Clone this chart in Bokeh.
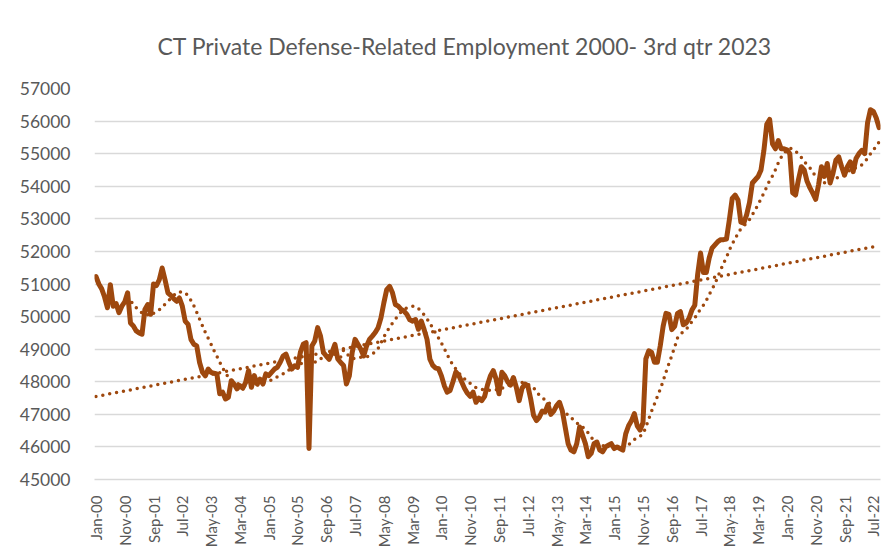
import math
import numpy as np
from bokeh.plotting import figure
from bokeh.models import Range1d, FixedTicker, BasicTickFormatter
from bokeh.embed import file_html
from bokeh.resources import INLINE

# Monthly CT private defense-related employment, Jan-2000 .. Sep-2022
employment = [
    51230, 51000, 50850, 50600, 50270, 50980, 50320, 50400, 50120, 50320,
    50450, 50730, 49800, 49710, 49560, 49500, 49460, 50220, 50370, 50070,
    51000, 50950, 51130, 51490, 51130, 50730, 50650, 50550, 50470, 50570,
    50320, 49860, 49760, 49300, 49150, 49100, 48590, 48290, 48180, 48390,
    48290, 48260, 48240, 47630, 47680, 47470, 47520, 48030, 47930, 47780,
    47880, 47800, 47980, 48340, 47830, 48190, 47930, 48080, 47930, 48240,
    48190, 48290, 48390, 48440, 48600, 48790, 48850, 48600, 48390, 48490,
    48440, 48900, 49150, 49200, 45950, 49100, 49250, 49660, 49400, 48900,
    48790, 48690, 48900, 49150, 48700, 48590, 48500, 47930, 48180, 48900,
    49300, 49150, 49000, 48790, 49100, 49300, 49400, 49510, 49660, 49960,
    50420, 50830, 50930, 50730, 50370, 50320, 50220, 50170, 50070, 49900,
    49860, 49910, 49610, 49860, 49600, 49300, 48690, 48500, 48420, 48400,
    48180, 47880, 47680, 47730, 48000, 48300, 48200, 48000, 47800, 47650,
    47550, 47680, 47370, 47500, 47420, 47550, 47900, 48180, 48340, 48080,
    47630, 48290, 48180, 48000, 47900, 48130, 47830, 47420, 47800, 47930,
    47880, 47470, 46970, 46810, 46910, 47100, 47070, 47300, 47000, 47100,
    47270, 47370, 47100, 46600, 46100, 45900, 45850, 46100, 46610, 46360,
    46100, 45700, 45800, 46100, 46150, 45900, 45850, 46000, 46050, 46100,
    45950, 46000, 45950, 45900, 46400, 46650, 46800, 47020, 46650, 46520,
    46740, 48700, 48950, 48900, 48600, 48600, 49100, 49700, 50100, 50070,
    49600, 49700, 50100, 50150, 49750, 49800, 49950, 50200, 50350, 51300,
    51950, 51350, 51350, 51800, 52100, 52200, 52300, 52360, 52360, 52380,
    52970, 53630, 53730, 53580, 52900, 52870, 53120, 53500, 54100, 54200,
    54300, 54500, 55100, 55900, 56050, 55300, 55150, 55400, 55150, 55150,
    55120, 55000, 53800, 53730, 54200, 54600, 54500, 54150, 53950, 53780,
    53600, 54050, 54600, 54300, 54700, 54100, 54400, 54800, 54900, 54600,
    54340, 54600, 54750, 54450, 54850, 55000, 55100, 55000, 55950, 56350,
    56300, 56100, 55800,
]

tick_labels = [
    "Jan-00", "Nov-00", "Sep-01", "Jul-02", "May-03", "Mar-04", "Jan-05",
    "Nov-05", "Sep-06", "Jul-07", "May-08", "Mar-09", "Jan-10", "Nov-10",
    "Sep-11", "Jul-12", "May-13", "Mar-14", "Jan-15", "Nov-15", "Sep-16",
    "Jul-17", "May-18", "Mar-19", "Jan-20", "Nov-20", "Sep-21", "Jul-22",
]
tick_step = 10
y_ticks = [45000, 46000, 47000, 48000, 49000, 50000, 51000,
           52000, 53000, 54000, 55000, 56000, 57000]
ma_period = 12

y = np.array(employment, dtype=float)
n = len(y)
x = np.arange(n)

# Linear trendline (least squares) and 12-period moving average, as Excel does
slope, intercept = np.polyfit(x, y, 1)
trend = slope * x + intercept
ma = np.convolve(y, np.ones(ma_period) / ma_period, mode="valid")
ma_x = x[ma_period - 1:]

COLOR = "#9E480E"
TEXT = "#595959"
GRID = "#D9D9D9"
FONT = "Lato"

p = figure(width=888, height=550, output_backend="svg", toolbar_location=None,
           x_range=Range1d(-0.5, n - 0.5), y_range=Range1d(45000, 57000),
           min_border_left=94, min_border_right=8, min_border_top=88,
           min_border_bottom=68)

p.title.text = "CT Private Defense-Related Employment 2000- 3rd qtr 2023"
p.title.text_font = FONT
p.title.text_font_size = "23px"
p.title.text_font_style = "normal"
p.title.text_color = TEXT
p.title.align = "left"
p.title.offset = 63
p.title.standoff = 58

p.line(x, y, line_color=COLOR, line_width=5, line_join="round", line_cap="round")
p.line(x, trend, line_color=COLOR, line_width=3.5, line_dash="0 7", line_cap="round")
p.line(ma_x, ma, line_color=COLOR, line_width=3.5, line_dash="0 7", line_cap="round")

p.outline_line_color = None
p.xgrid.grid_line_color = None
p.ygrid.grid_line_color = GRID
p.ygrid.grid_line_width = 1.3
p.ygrid.ticker = FixedTicker(ticks=y_ticks)

p.yaxis.ticker = FixedTicker(ticks=y_ticks)
p.yaxis.formatter = BasicTickFormatter(use_scientific=False)
p.yaxis.axis_line_color = None
p.yaxis.major_tick_line_color = None
p.yaxis.minor_tick_line_color = None
p.yaxis.major_label_text_font = FONT
p.yaxis.major_label_text_font_size = "17.5px"
p.yaxis.major_label_text_color = TEXT
p.yaxis.major_label_standoff = 18

xt = [i * tick_step for i in range(len(tick_labels))]
p.xaxis.ticker = FixedTicker(ticks=xt)
p.xaxis.major_label_overrides = {t: lab for t, lab in zip(xt, tick_labels)}
p.xaxis.major_label_orientation = math.pi / 2
p.xaxis.axis_line_color = GRID
p.xaxis.axis_line_width = 1.3
p.xaxis.major_tick_line_color = None
p.xaxis.minor_tick_line_color = None
p.xaxis.major_label_text_font = FONT
p.xaxis.major_label_text_font_size = "15px"
p.xaxis.major_label_text_color = TEXT
p.xaxis.major_label_standoff = 10

open("out.html", "w").write(file_html(p, INLINE))
